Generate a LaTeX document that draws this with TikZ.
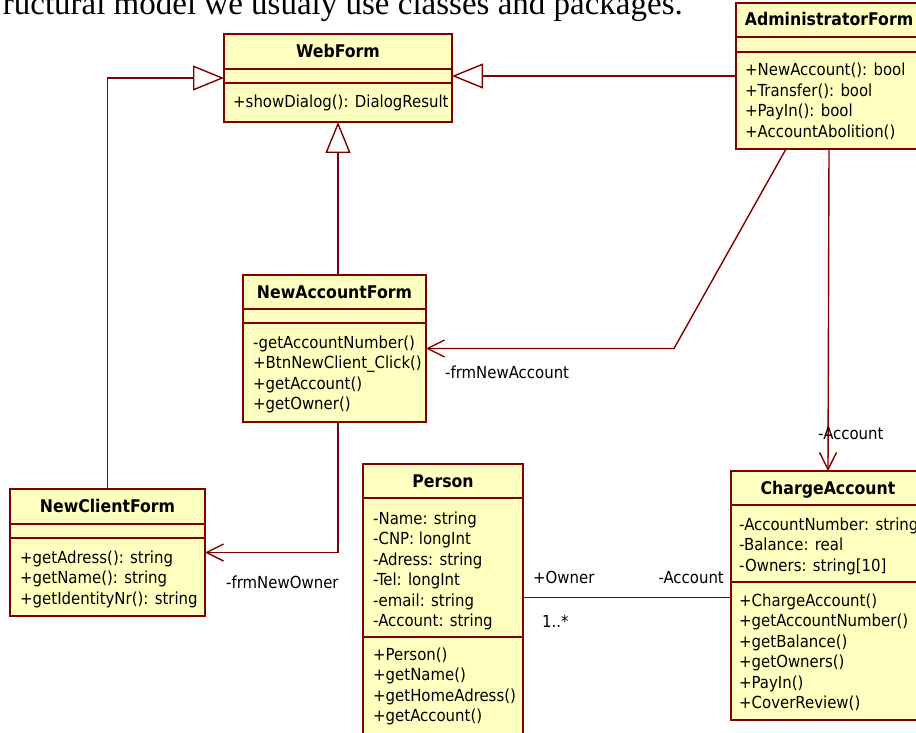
\documentclass[tikz,border=0pt]{standalone}
\usepackage{fontspec}
\setmainfont{Liberation Serif}
\newfontfamily\umlfont{DejaVu Sans Condensed}
\usetikzlibrary{arrows.meta}

\definecolor{umlred}{RGB}{128,0,0}
\definecolor{umlfill}{RGB}{255,255,192}

\tikzset{
  classbox/.style={draw=umlred, fill=umlfill, line width=1.4pt, inner sep=0pt, outer sep=0pt},
  umledge/.style={draw=umlred, line width=1.4pt},
  classtitle/.style={anchor=base, inner sep=0pt, font=\umlfont\bfseries\fontsize{17.5}{20}\selectfont},
  member/.style={anchor=base west, inner sep=0pt, font=\umlfont\fontsize{16.6}{20}\selectfont},
  rolelabel/.style={anchor=base west, inner sep=0pt, font=\umlfont\fontsize{16.6}{20}\selectfont},
  generalize/.style={umledge, -{Triangle[open, length=31pt, width=25pt, line width=1.4pt]}},
  navigable/.style={umledge, -{Straight Barb[length=17pt, width=17pt, line width=1.4pt]}},
  assoc/.style={umledge},
}

% class box with header and two compartments
% #1 name, #2 x1, #3 y1, #4 x2, #5 y2, #6 first divider, #7 second divider, #8 title
\newcommand{\umlclass}[8]{%
  \node[classbox, anchor=north west, minimum width={(#4-#2)*1pt}, minimum height={(#5-#3)*1pt}] (#1) at (#2,#3) {};
  \draw[umledge] (#2,#6) -- (#4,#6);
  \draw[umledge] (#2,#7) -- (#4,#7);
  \node[classtitle] (#1-title) at ({(#2+#4)/2},{(#3+#6)/2+6}) {#8};
}
% list of members: #1 name prefix, #2 x, #3 centre of first line, #4 items
\newcommand{\umlmembers}[4]{%
  \foreach \t [count=\i from 0] in {#4} {
    \node[member] (#1-\i) at (#2,{#3+20.5*\i+6}) {\t};
  }
}

\begin{document}
\begin{tikzpicture}[x=1pt, y=-1pt]
\useasboundingbox (0,0) rectangle (916,733);

\node[anchor=base east, inner sep=0pt, font=\fontsize{33}{40}\selectfont] (caption) at (683,15)
  {ructural model we usualy use classes and packages.};

% classes
\umlclass{webform}{224}{34}{452}{122}{69}{83}{WebForm}
\umlmembers{webform-op}{233}{102}{{+showDialog(): DialogResult}}

\umlclass{adminform}{736}{3}{922}{149}{37}{52}{AdministratorForm}
\umlmembers{adminform-op}{745}{70}{{+NewAccount(): bool},{+Transfer(): bool},{+PayIn(): bool},{+AccountAbolition()}}

\umlclass{newaccount}{243}{275}{426}{422}{309}{323}{NewAccountForm}
\umlmembers{newaccount-op}{253}{342}{{-getAccountNumber()},{+BtnNewClient\_Click()},{+getAccount()},{+getOwner()}}

\umlclass{newclient}{10}{489}{205}{616}{524}{538}{NewClientForm}
\umlmembers{newclient-op}{20}{557}{{+getAdress(): string},{+getName(): string},{+getIdentityNr(): string}}

\umlclass{person}{363}{464}{523}{745}{498}{637}{Person}
\umlmembers{person-at}{373}{518}{{-Name: string},{-CNP: longInt},{-Adress: string},{-Tel: longInt},{-email: string},{-Account: string}}
\umlmembers{person-op}{373}{654}{{+Person()},{+getName()},{+getHomeAdress()},{+getAccount()}}

\umlclass{charge}{731}{471}{925}{720}{505}{582}{ChargeAccount}
\umlmembers{charge-at}{739}{524}{{-AccountNumber: string},{-Balance: real},{-Owners: string[10]}}
\umlmembers{charge-op}{739}{600}{{+ChargeAccount()},{+getAccountNumber()},{+getBalance()},{+getOwners()},{+PayIn()},{+CoverReview()}}

% generalizations
\draw[generalize] (newclient.north) |- (webform.west);
\draw[generalize] (adminform.west) -- (adminform.west -| webform.east);
\draw[generalize] (newaccount.north -| webform.south) -- (webform.south);

% navigable associations
\coordinate (bendA) at (674,348.5);
\draw[navigable] ([xshift=-43pt]adminform.south) -- (bendA) -- (newaccount.east);
\node[rolelabel] (lblNewAccount) at (445,378) {-frmNewAccount};

\draw[navigable] (newaccount.south -| webform.south) |- (newclient.east);
\node[rolelabel] (lblNewOwner) at (226,588) {-frmNewOwner};

\draw[navigable] (adminform.south) -- (charge.north);
\node[rolelabel] (lblAccountTop) at (818,439) {-Account};

% plain association
\coordinate (assocR) at ([yshift=-2pt]charge.west);
\draw[assoc] (person.east |- assocR) -- (assocR);
\node[rolelabel] (lblOwner) at (533,583) {+Owner};
\node[rolelabel, anchor=base east] (lblAccount) at (724,583) {-Account};
\node[rolelabel] (lblMult) at (542,627) {1..*};
\end{tikzpicture}
\end{document}
